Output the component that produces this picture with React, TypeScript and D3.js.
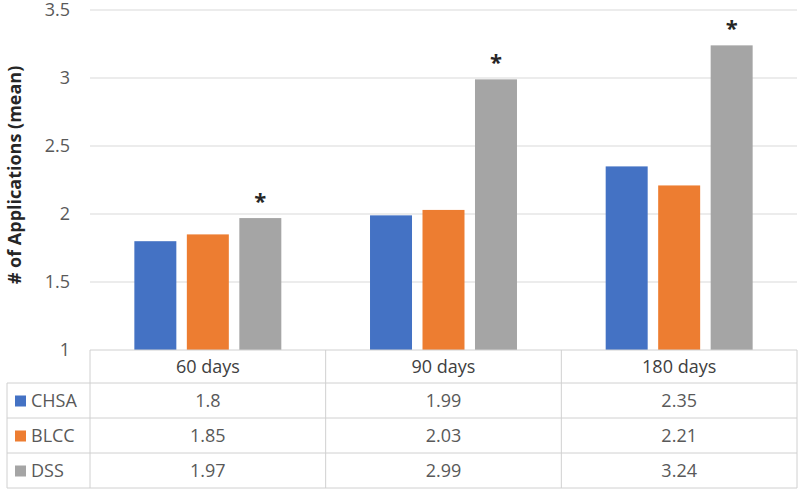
import React, { useEffect, useRef } from "react";
import * as d3 from "d3";

const categories = ["60 days", "90 days", "180 days"];
const seriesNames = ["CHSA", "BLCC", "DSS"];
const chsa = [1.8, 1.99, 2.35];
const blcc = [1.85, 2.03, 2.21];
const dss = [1.97, 2.99, 3.24];
const colors = ["#4472c4", "#ed7d31", "#a5a5a5"];
const yTicks = [1, 1.5, 2, 2.5, 3, 3.5];

export default function App() {
  const svgRef = useRef<SVGSVGElement>(null);

  useEffect(() => {
    const svg = d3.select(svgRef.current);
    svg.selectAll("*").remove();

    const width = 800;
    const height = 490;
    const left = 90;
    const right = 797;
    const top = 10;
    const bottom = 350;
    const rowH = [33, 35, 35, 35];
    const legendLeft = 7;
    const font = "'Open Sans', sans-serif";

    svg.attr("width", width).attr("height", height);

    const values = [chsa, blcc, dss];

    const x = d3.scaleBand().domain(categories).range([left, right]);
    const y = d3.scaleLinear().domain([1, 3.5]).range([bottom, top]);
    const inner = d3
      .scaleBand()
      .domain(seriesNames)
      .range([0, x.bandwidth()])
      .paddingInner(0.2)
      .paddingOuter(0.845);

    // gridlines
    svg
      .append("g")
      .selectAll("line")
      .data(yTicks.slice(1))
      .join("line")
      .attr("x1", left)
      .attr("x2", right)
      .attr("y1", (d) => y(d))
      .attr("y2", (d) => y(d))
      .attr("stroke", "#d9d9d9")
      .attr("stroke-width", 1);

    // y tick labels
    svg
      .append("g")
      .selectAll("text")
      .data(yTicks)
      .join("text")
      .attr("x", 70)
      .attr("y", (d) => y(d))
      .attr("dy", "0.35em")
      .attr("text-anchor", "end")
      .style("font-family", font)
      .style("font-size", "18px")
      .style("fill", "#595959")
      .text((d) => d3.format("~g")(d));

    // y axis title
    svg
      .append("text")
      .attr("transform", `translate(21, 175) rotate(-90)`)
      .attr("text-anchor", "middle")
      .style("font-family", font)
      .style("font-size", "18px")
      .style("font-weight", "bold")
      .style("fill", "#262626")
      .text("# of Applications (mean)");

    // bars
    seriesNames.forEach((s, si) => {
      svg
        .append("g")
        .selectAll("rect")
        .data(categories)
        .join("rect")
        .attr("x", (c) => (x(c) ?? 0) + (inner(s) ?? 0))
        .attr("y", (_, i) => y(values[si][i]))
        .attr("width", inner.bandwidth())
        .attr("height", (_, i) => bottom - y(values[si][i]))
        .attr("fill", colors[si]);
    });

    // asterisks over DSS bars
    svg
      .append("g")
      .selectAll("text")
      .data(categories)
      .join("text")
      .attr("x", (c) => (x(c) ?? 0) + (inner("DSS") ?? 0) + inner.bandwidth() / 2)
      .attr("y", (_, i) => y(dss[i]) - 9)
      .attr("text-anchor", "middle")
      .style("font-family", font)
      .style("font-size", "22px")
      .style("font-weight", "bold")
      .style("fill", "#262626")
      .text("*");

    // data table
    const t = svg.append("g");
    const rowY = [bottom];
    rowH.forEach((h) => rowY.push(rowY[rowY.length - 1] + h));
    const lineColor = "#d0d0d0";

    rowY.forEach((yy, i) => {
      t.append("line")
        .attr("x1", i === 0 ? left : legendLeft)
        .attr("x2", right)
        .attr("y1", yy)
        .attr("y2", yy)
        .attr("stroke", lineColor);
    });
    [left, ...categories.map((c) => (x(c) ?? 0) + x.bandwidth())].forEach((xx) => {
      t.append("line")
        .attr("x1", xx)
        .attr("x2", xx)
        .attr("y1", bottom)
        .attr("y2", rowY[rowY.length - 1])
        .attr("stroke", lineColor);
    });
    t.append("line")
      .attr("x1", legendLeft)
      .attr("x2", legendLeft)
      .attr("y1", rowY[1])
      .attr("y2", rowY[rowY.length - 1])
      .attr("stroke", lineColor);

    t.selectAll("text.hdr")
      .data(categories)
      .join("text")
      .attr("class", "hdr")
      .attr("x", (c) => (x(c) ?? 0) + x.bandwidth() / 2)
      .attr("y", (rowY[0] + rowY[1]) / 2)
      .attr("dy", "0.35em")
      .attr("text-anchor", "middle")
      .style("font-family", font)
      .style("font-size", "18px")
      .style("fill", "#404040")
      .text((d) => d);

    seriesNames.forEach((s, si) => {
      const cy = (rowY[si + 1] + rowY[si + 2]) / 2;
      t.append("rect")
        .attr("x", 15)
        .attr("y", cy - 5)
        .attr("width", 11)
        .attr("height", 11)
        .attr("fill", colors[si]);
      t.append("text")
        .attr("x", 31)
        .attr("y", cy)
        .attr("dy", "0.35em")
        .style("font-family", font)
        .style("font-size", "18px")
        .style("fill", "#595959")
        .text(s);
      t.append("g")
        .selectAll("text")
        .data(categories)
        .join("text")
        .attr("x", (c) => (x(c) ?? 0) + x.bandwidth() / 2)
        .attr("y", cy)
        .attr("dy", "0.35em")
        .attr("text-anchor", "middle")
        .style("font-family", font)
        .style("font-size", "18px")
        .style("fill", "#595959")
        .text((_, i) => String(values[si][i]));
    });
  }, []);

  return (
    <div style={{ position: "absolute", left: 0, top: 0, background: "#fff" }}>
      <svg ref={svgRef}></svg>
    </div>
  );
}
